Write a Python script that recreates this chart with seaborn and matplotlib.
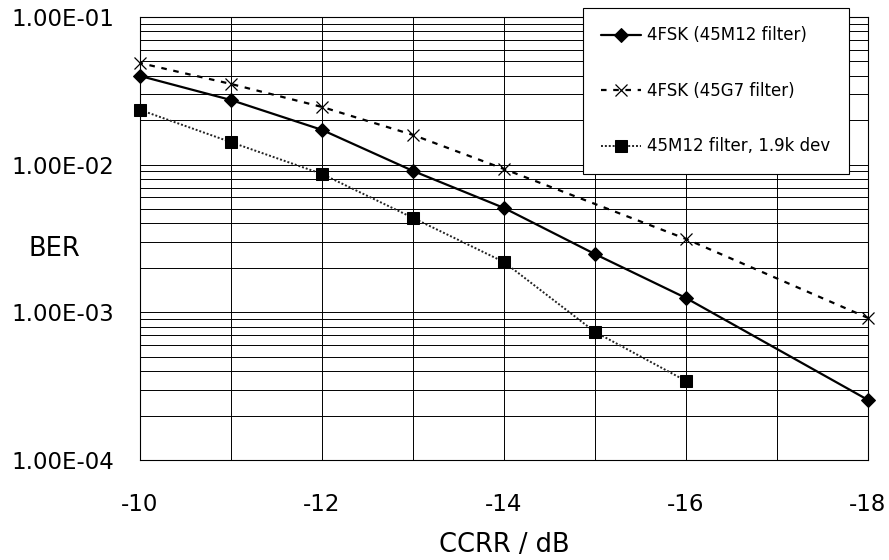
import matplotlib
matplotlib.use('Agg')
import matplotlib.pyplot as plt
import seaborn as sns
from matplotlib.ticker import FixedLocator, FuncFormatter, NullFormatter

# ---- data ----
ccrr_45m12 = [-10, -11, -12, -13, -14, -15, -16, -18]
ber_45m12 = [0.0399, 0.0274, 0.0172, 0.00907, 0.00509, 0.00248, 0.00125, 0.000255]
ccrr_45g7 = [-10, -11, -12, -13, -14, -16, -18]
ber_45g7 = [0.0488, 0.0352, 0.0246, 0.0159, 0.00935, 0.00314, 0.000916]
ccrr_dev = [-10, -11, -12, -13, -14, -15, -16]
ber_dev = [0.0235, 0.0142, 0.00865, 0.00436, 0.00219, 0.000737, 0.000343]
series_labels = ['4FSK (45M12 filter)', '4FSK (45G7 filter)', '45M12 filter, 1.9k dev']
x_ticks = list(range(-10, -19, -1))
y_major = [1e-4, 1e-3, 1e-2, 1e-1]
y_minor = [m * 10.0 ** e for e in (-4, -3, -2) for m in range(2, 10)]

sns.set_style('white')
plt.rcParams['font.family'] = ['DejaVu Sans']
for k in ('text.color', 'axes.labelcolor', 'xtick.color', 'ytick.color'):
    plt.rcParams[k] = 'black'

fig = plt.figure(figsize=(8.89, 5.6), dpi=100)
ax = fig.add_axes([140 / 889, 1 - 460 / 560, 728 / 889, 443 / 560])

sns.lineplot(x=ccrr_45m12, y=ber_45m12, ax=ax, color='black', lw=1.6,
             marker='D', markersize=7.5, markeredgecolor='black',
             label=series_labels[0], zorder=3, clip_on=False)
sns.lineplot(x=ccrr_45g7, y=ber_45g7, ax=ax, color='black', lw=1.6,
             linestyle=(0, (2.5, 3)), marker='x', markersize=8,
             markeredgewidth=0.9, markeredgecolor='black',
             label=series_labels[1], zorder=3, clip_on=False)
sns.lineplot(x=ccrr_dev, y=ber_dev, ax=ax, color='#222222', lw=1.4,
             linestyle=(0, (1, 1)), marker='s', markersize=8.5,
             markeredgecolor='black', markerfacecolor='black',
             label=series_labels[2], zorder=3, clip_on=False)

ax.set_yscale('log')
ax.set_ylim(1e-4, 1e-1)
ax.set_xlim(-10, -18)

ax.xaxis.set_major_locator(FixedLocator(x_ticks))
ax.xaxis.set_major_formatter(FuncFormatter(lambda v, p: f'{int(round(v))}' if int(round(v)) % 2 == 0 else ''))
ax.yaxis.set_major_locator(FixedLocator(y_major))
ax.yaxis.set_minor_locator(FixedLocator(y_minor))
ax.yaxis.set_major_formatter(FuncFormatter(lambda v, p: f'{v:.2E}'))
ax.yaxis.set_minor_formatter(NullFormatter())

ax.set_axisbelow(True)
ax.grid(True, which='both', axis='y', color='black', lw=0.7)
ax.grid(True, which='major', axis='x', color='black', lw=0.7)

ax.tick_params(axis='x', which='major', direction='out', length=4, width=0.8,
               labelsize=16.5, pad=19.5, colors='black')
ax.tick_params(axis='y', which='major', direction='in', length=7, width=0.8,
               labelsize=16.5, pad=18.5, colors='black')
ax.tick_params(axis='y', which='minor', length=0)

for s in ax.spines.values():
    s.set_color('black')
    s.set_linewidth(0.8)

ax.set_xlabel('CCRR / dB', fontsize=18.5, labelpad=11.5, color='black')
ax.set_ylabel('BER', fontsize=18.5, rotation=0, ha='center', va='center', color='black')
ax.yaxis.set_label_coords(-0.117, 0.477)

leg = ax.legend(loc='upper left', bbox_to_anchor=(583 / 889, 1 - 8 / 560),
                bbox_transform=fig.transFigure, frameon=True, fancybox=False,
                edgecolor='black', framealpha=1, fontsize=12.0, labelspacing=2.25,
                handlelength=2.4, handletextpad=0.35, borderpad=1.1,
                borderaxespad=0, numpoints=1)
leg.get_frame().set_linewidth(0.8)
leg.set_zorder(5)
for t in leg.get_texts():
    t.set_color('black')

fig.savefig('out.png', dpi=100, facecolor='white')
